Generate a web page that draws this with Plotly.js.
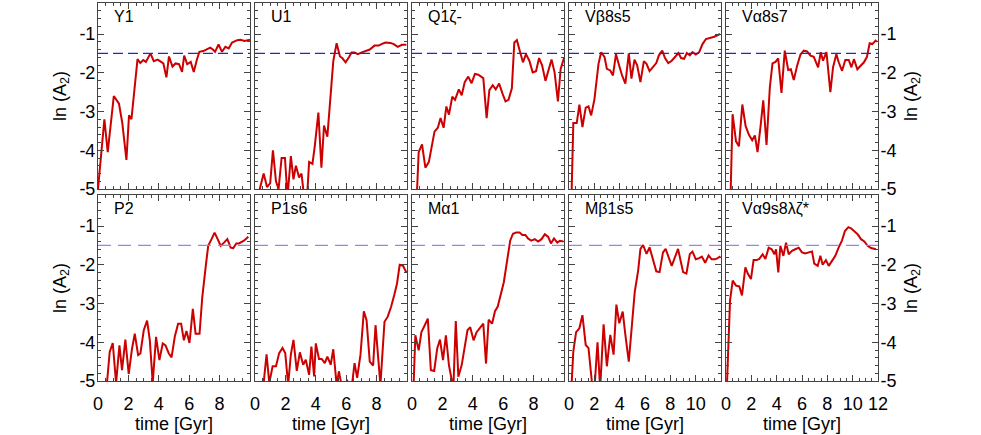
<!DOCTYPE html>
<html>
<head>
<meta charset="utf-8">
<script src="https://cdn.plot.ly/plotly-3.0.1.min.js"></script>
<style>body{margin:0;} #chart{width:981px;height:435px;}</style>
</head>
<body>
<div id="chart"></div>
<script>
// panel names, top row then bottom row
var names = ['Y1', 'U1', 'Q1ζ-', 'Vβ8s5', 'Vα8s7', 'P2', 'P1s6', 'Mα1', 'Mβ1s5', 'Vα9s8λζ*'];
var tmax = [10, 10, 10, 12, 12, 10, 10, 10, 12, 12];
var threshold = -1.5;
var yTickVals = [-5, -4, -3, -2, -1];
var yTickText = ['-5', '-4', '-3', '-2', '-1'];

// time [Gyr] / ln(A2)
var tY1 = [0, 0.27, 0.42, 0.64, 1.04, 1.38, 1.6, 1.87, 2.04, 2.2, 2.38, 2.6, 2.78, 2.98, 3.15, 3.45, 3.67, 3.93, 4.15, 4.3, 4.5, 4.67, 4.9, 5.1, 5.33, 5.53, 5.67, 5.87, 6.1, 6.3, 6.5, 6.67, 6.93, 7.16, 7.38, 7.56, 7.7, 7.93, 8.16, 8.38, 8.6, 8.82, 9.16, 9.38, 9.64, 10];
var aY1 = [-5, -3.95, -3.2, -4.05, -2.6, -2.8, -3.3, -4.25, -3.1, -3.2, -2.5, -1.65, -1.75, -1.67, -1.72, -1.5, -1.7, -1.66, -1.72, -1.76, -2.12, -1.58, -1.84, -1.76, -1.78, -1.98, -1.56, -1.78, -1.72, -1.98, -1.67, -1.46, -1.44, -1.4, -1.35, -1.4, -1.46, -1.27, -1.46, -1.33, -1.37, -1.22, -1.16, -1.15, -1.18, -1.15];

var tU1 = [0.28, 0.57, 0.79, 1.0, 1.18, 1.38, 1.55, 1.75, 1.97, 2.14, 2.36, 2.53, 2.69, 2.9, 3.06, 3.23, 3.4, 3.56, 3.78, 3.93, 4.17, 4.37, 4.54, 4.76, 4.98, 5.15, 5.37, 5.59, 5.74, 5.96, 6.18, 6.35, 6.55, 6.77, 6.99, 7.27, 7.55, 7.86, 8.14, 8.32, 8.58, 8.91, 9.13, 9.39, 9.67, 9.96];
var aU1 = [-5.05, -4.6, -4.95, -4.85, -4.0, -4.8, -5.0, -4.2, -4.2, -5.2, -4.15, -4.75, -4.4, -4.7, -4.6, -5.2, -5.4, -4.3, -4.35, -3.9, -3.03, -4.45, -3.36, -3.65, -2.55, -1.7, -1.24, -1.58, -1.62, -1.73, -1.6, -1.48, -1.48, -1.52, -1.48, -1.45, -1.4, -1.3, -1.3, -1.26, -1.22, -1.23, -1.26, -1.33, -1.28, -1.28];

var tQ1 = [0.33, 0.44, 0.66, 0.88, 1.11, 1.33, 1.48, 1.7, 1.88, 2.08, 2.26, 2.43, 2.65, 2.83, 3.08, 3.27, 3.47, 3.7, 3.92, 4.14, 4.36, 4.69, 4.91, 5.09, 5.31, 5.51, 5.73, 5.95, 6.15, 6.35, 6.57, 6.73, 6.9, 7.12, 7.3, 7.5, 7.72, 7.94, 8.16, 8.36, 8.56, 8.78, 9.0, 9.18, 9.38, 9.6, 9.78, 10];
var aQ1 = [-5.05, -4.05, -3.85, -4.45, -4.3, -3.77, -3.52, -3.42, -3.17, -3.42, -2.87, -3.08, -2.62, -2.7, -2.43, -2.58, -2.24, -2.1, -2.27, -2.03, -2.05, -2.14, -3.17, -2.45, -2.32, -2.43, -2.28, -2.53, -2.74, -2.7, -2.4, -1.22, -1.16, -1.48, -1.73, -1.52, -1.69, -1.99, -1.96, -1.62, -1.81, -2.21, -1.94, -1.66, -1.99, -2.74, -1.9, -1.62];

var tVb = [0.21, 0.34, 0.61, 0.82, 1.06, 1.32, 1.54, 1.75, 2.01, 2.33, 2.54, 2.81, 2.99, 3.26, 3.47, 3.71, 3.92, 4.19, 4.45, 4.72, 4.93, 5.17, 5.38, 5.64, 5.91, 6.12, 6.36, 6.62, 6.89, 7.1, 7.36, 7.58, 7.84, 8.11, 8.37, 8.64, 8.85, 9.09, 9.3, 9.54, 9.75, 10.01, 10.28, 10.54, 10.81, 11.13, 11.47, 11.92];
var aVb = [-5.05, -3.3, -3.3, -2.82, -3.4, -2.9, -2.87, -3.1, -2.68, -1.77, -1.47, -1.6, -1.9, -1.94, -2.07, -1.52, -1.77, -2.07, -2.28, -1.5, -2.15, -1.66, -1.81, -2.24, -1.7, -1.77, -1.96, -1.86, -1.75, -1.55, -1.43, -1.62, -1.75, -1.69, -1.58, -1.49, -1.62, -1.64, -1.49, -1.55, -1.47, -1.53, -1.47, -1.26, -1.13, -1.1, -1.07, -1.0];

var tVa = [0.37, 0.52, 0.79, 1.02, 1.29, 1.55, 1.81, 2.07, 2.28, 2.49, 2.73, 2.94, 3.2, 3.46, 3.67, 3.91, 4.12, 4.38, 4.64, 4.91, 5.12, 5.35, 5.62, 5.88, 6.14, 6.4, 6.67, 6.93, 7.27, 7.48, 7.66, 7.93, 8.24, 8.45, 8.71, 8.9, 9.16, 9.42, 9.69, 9.9, 10.1, 10.37, 10.63, 10.89, 11.13, 11.34, 11.55, 11.81, 11.92];
var aVa = [-5.05, -3.07, -3.77, -3.9, -2.82, -3.38, -3.6, -3.74, -3.62, -4.05, -3.38, -2.71, -3.86, -2.38, -1.76, -1.72, -1.63, -2.52, -1.43, -1.93, -1.91, -2.19, -1.81, -1.53, -1.43, -1.45, -1.56, -1.59, -1.86, -1.47, -1.69, -1.47, -2.5, -1.86, -1.52, -1.73, -1.95, -1.67, -1.67, -1.86, -1.65, -1.91, -1.82, -1.73, -1.59, -1.24, -1.26, -1.17, -1.2];

var tP2 = [0.59, 0.77, 0.97, 1.19, 1.41, 1.58, 1.8, 2.02, 2.24, 2.42, 2.64, 2.79, 3.01, 3.23, 3.41, 3.6, 3.82, 4.04, 4.26, 4.44, 4.66, 4.84, 5.05, 5.27, 5.47, 5.65, 5.82, 6.02, 6.24, 6.42, 6.68, 6.86, 7.08, 7.25, 7.47, 7.67, 7.85, 8.07, 8.29, 8.51, 8.73, 8.9, 9.1, 9.27, 9.6, 9.89];
var aP2 = [-5.05, -4.25, -4.02, -5.05, -4.08, -4.72, -3.93, -4.82, -4.16, -3.78, -4.33, -4.29, -3.69, -3.44, -3.95, -5.05, -3.86, -4.46, -4.03, -4.08, -4.29, -4.39, -3.86, -3.52, -3.52, -3.95, -3.71, -4.02, -3.14, -3.78, -3.78, -2.84, -2.07, -1.51, -1.34, -1.17, -1.32, -1.51, -1.43, -1.34, -1.56, -1.57, -1.45, -1.45, -1.38, -1.28];

var tP1 = [0.57, 0.76, 0.94, 1.16, 1.38, 1.59, 1.81, 1.99, 2.18, 2.36, 2.53, 2.75, 2.95, 3.17, 3.34, 3.56, 3.71, 3.89, 4.0, 4.21, 4.39, 4.59, 4.76, 4.98, 5.15, 5.37, 5.52, 5.74, 6.07, 6.35, 6.55, 6.72, 6.94, 7.16, 7.34, 7.55, 7.77, 7.93, 8.25, 8.52, 8.73, 8.95, 9.17, 9.34, 9.52, 9.74, 9.96];
var aP1 = [-5.05, -4.31, -5.05, -4.62, -4.62, -4.28, -4.15, -4.28, -5.1, -4.31, -3.94, -4.74, -4.26, -4.58, -4.45, -4.84, -4.11, -4.88, -4.03, -4.43, -4.43, -4.54, -4.37, -4.58, -4.18, -5.1, -4.75, -5.2, -5.0, -5.2, -4.54, -4.92, -4.32, -3.2, -3.43, -4.5, -4.6, -3.56, -5.1, -3.47, -3.34, -3.09, -2.77, -2.49, -2.0, -2.03, -2.2];

var tMa = [0.11, 0.22, 0.44, 0.62, 0.84, 1.04, 1.24, 1.46, 1.66, 1.84, 2.04, 2.23, 2.43, 2.61, 2.72, 2.88, 3.05, 3.27, 3.47, 3.65, 3.83, 4.05, 4.25, 4.47, 4.69, 4.87, 5.04, 5.27, 5.46, 5.64, 5.86, 6.04, 6.24, 6.46, 6.64, 6.86, 7.08, 7.26, 7.46, 7.63, 7.85, 8.08, 8.3, 8.52, 8.74, 8.96, 9.14, 9.34, 9.56, 9.73, 9.96];
var aMa = [-5.05, -3.82, -4.21, -3.74, -3.56, -3.39, -4.72, -4.74, -4.16, -3.93, -4.46, -3.82, -4.59, -5.06, -5.2, -3.45, -4.89, -4.59, -4.08, -3.69, -3.61, -3.95, -3.74, -3.62, -3.52, -4.55, -3.42, -3.52, -3.2, -3.08, -2.75, -2.45, -1.94, -1.38, -1.2, -1.17, -1.17, -1.23, -1.23, -1.32, -1.38, -1.34, -1.4, -1.34, -1.21, -1.28, -1.45, -1.32, -1.43, -1.38, -1.4];

var tMb = [0.21, 0.34, 0.56, 0.82, 1.06, 1.32, 1.54, 1.8, 2.01, 2.25, 2.46, 2.73, 2.99, 3.26, 3.52, 3.74, 3.97, 4.24, 4.45, 4.72, 4.98, 5.19, 5.46, 5.64, 5.85, 6.12, 6.36, 6.62, 6.89, 7.15, 7.42, 7.63, 7.84, 8.11, 8.37, 8.61, 8.82, 9.01, 9.27, 9.54, 9.75, 10.01, 10.28, 10.49, 10.75, 11.02, 11.26, 11.52, 11.74, 11.95];
var aMb = [-5.05, -4.24, -3.74, -3.64, -3.3, -4.07, -4.15, -5.0, -5.2, -4.0, -5.2, -3.54, -4.62, -3.81, -4.32, -3.03, -3.51, -3.21, -3.81, -4.5, -3.51, -2.7, -2.15, -1.59, -1.49, -1.72, -1.55, -1.85, -2.17, -2.19, -1.68, -1.59, -1.8, -2.03, -1.8, -1.59, -1.91, -2.19, -2.23, -1.72, -1.66, -1.86, -1.83, -1.79, -1.95, -1.76, -1.86, -1.86, -1.83, -1.78];

var tV9 = [0.08, 0.21, 0.32, 0.53, 0.79, 1.05, 1.26, 1.53, 1.71, 1.97, 2.18, 2.42, 2.63, 2.89, 3.11, 3.37, 3.61, 3.82, 3.95, 4.13, 4.29, 4.53, 4.74, 4.95, 5.21, 5.47, 5.74, 6.0, 6.26, 6.53, 6.79, 6.97, 7.24, 7.45, 7.63, 7.89, 8.11, 8.37, 8.63, 8.89, 9.16, 9.39, 9.66, 9.87, 10.13, 10.39, 10.66, 10.92, 11.18, 11.45, 11.84];
var aV9 = [-5.05, -3.78, -2.92, -2.41, -2.54, -2.56, -2.79, -2.07, -2.22, -2.37, -1.88, -1.88, -1.85, -1.73, -1.85, -1.56, -1.6, -1.73, -1.6, -2.2, -1.51, -1.77, -1.43, -1.73, -1.64, -1.6, -1.56, -1.68, -1.71, -1.68, -1.66, -1.97, -2.03, -1.77, -2.0, -1.88, -2.03, -1.9, -1.77, -1.56, -1.37, -1.13, -1.03, -1.06, -1.13, -1.21, -1.34, -1.4, -1.51, -1.57, -1.6];

var times = [tY1, tU1, tQ1, tVb, tVa, tP2, tP1, tMa, tMb, tV9];
var lnA2 = [aY1, aU1, aQ1, aVb, aVa, aP2, aP1, aMa, aMb, aV9];

var W = 981, H = 435;
var fontFam = 'Liberation Sans, Arial, sans-serif';
var data = [];
var shapes = [];
var annotations = [];
var layout = {
  width: W, height: H,
  margin: {l: 0, r: 0, t: 0, b: 0},
  paper_bgcolor: 'white',
  plot_bgcolor: 'white',
  showlegend: false,
  font: {family: fontFam, size: 18, color: '#000'}
};

for (var i = 0; i < 10; i++) {
  var n = i == 0 ? '' : String(i + 1);
  var col = i % 5, row = Math.floor(i / 5);
  var pxLeft = 98 + col * 157;
  var pxTop = row == 0 ? 3 : 195;

  data.push({
    x: times[i], y: lnA2[i],
    xaxis: 'x' + n, yaxis: 'y' + n,
    type: 'scatter', mode: 'lines',
    line: {color: '#cc0000', width: 2},
    hoverinfo: 'skip'
  });

  var xt = tmax[i] == 10 ? [0, 2, 4, 6, 8, 10] : [0, 2, 4, 6, 8, 10, 12];
  var xl = xt.map(String);
  if (col != 4) xl[xl.length - 1] = '';

  layout['xaxis' + n] = {
    domain: [pxLeft / W, (pxLeft + 152) / W],
    range: [0, tmax[i]],
    anchor: 'y' + n,
    tickmode: 'array', tickvals: xt, ticktext: xl,
    showticklabels: row == 1,
    ticks: 'inside', ticklen: 6, tickcolor: '#444',
    minor: {ticks: 'inside', ticklen: 3, dtick: 0.5, tick0: 0, tickcolor: '#444'},
    showline: true, linecolor: '#444', linewidth: 1, mirror: 'allticks',
    showgrid: false, zeroline: false,
    tickfont: {size: 18},
    ticklabelstandoff: 6,
    title: row == 1 ? {text: 'time [Gyr]', font: {size: 18}, standoff: 0} : {text: ''}
  };
  layout['yaxis' + n] = {
    domain: [(H - pxTop - 186) / H, (H - pxTop) / H],
    range: [-5, -0.2],
    anchor: 'x' + n,
    side: col == 4 ? 'right' : 'left',
    tickmode: 'array', tickvals: yTickVals, ticktext: yTickText,
    showticklabels: col == 0 || col == 4,
    ticks: 'inside', ticklen: 6, tickcolor: '#444',
    minor: {ticks: 'inside', ticklen: 3, dtick: 0.2, tick0: 0, tickcolor: '#444'},
    showline: true, linecolor: '#444', linewidth: 1, mirror: 'allticks',
    showgrid: false, zeroline: false,
    tickfont: {size: 18},
    ticklabelstandoff: -2,
    title: (col == 0 || col == 4) ? {text: 'ln (A<sub>2</sub>)', font: {size: 18}, standoff: 8} : {text: ''}
  };

  // reference level
  shapes.push({
    type: 'line', xref: 'x' + n + ' domain', yref: 'y' + n,
    x0: 0, x1: 1, y0: threshold, y1: threshold,
    line: {color: row == 0 ? '#2525c8' : '#8a8af2', width: 1.2, dash: row == 0 ? '10px,5px' : '13px,7px'}
  });

  annotations.push({
    text: names[i], showarrow: false,
    xref: 'x' + n + ' domain', yref: 'y' + n + ' domain',
    x: 0.095, y: 0.985, xanchor: 'left', yanchor: 'top',
    font: {size: 16, color: '#000'}
  });
}

layout.shapes = shapes;
layout.annotations = annotations;

Plotly.newPlot('chart', data, layout, {displayModeBar: false, staticPlot: true});
</script>
</body>
</html>
